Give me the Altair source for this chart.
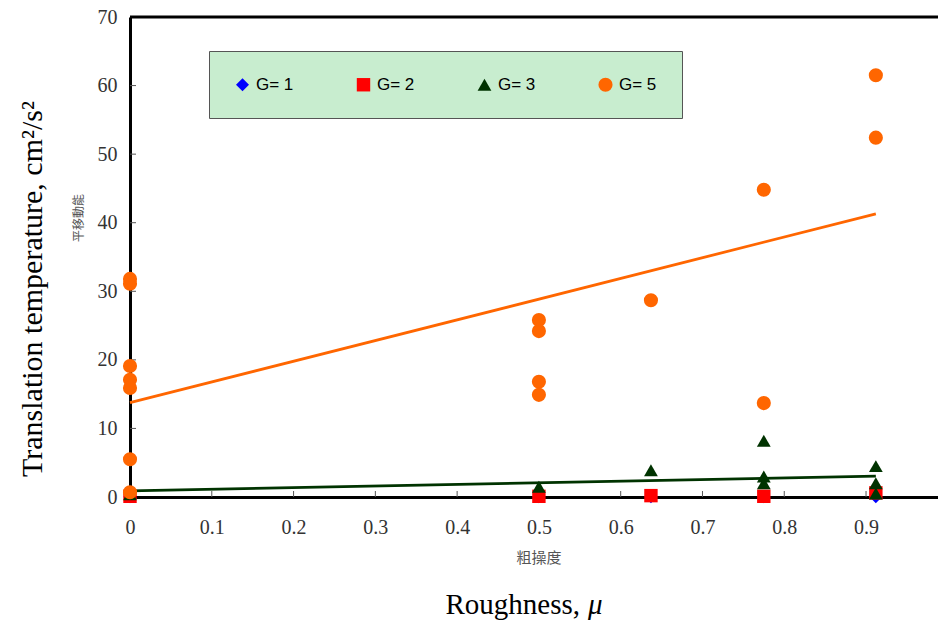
import altair as alt
import pandas as pd

# ---- data ----
series = ["G= 1", "G= 2", "G= 3", "G= 5"]
colors = ["#0000FF", "#FF0000", "#003300", "#FF6600"]
shapes = ["diamond", "square", "triangle-up", "circle"]
sizes = [170, 200, 290, 175]

g1_x = [0, 0.5, 0.637, 0.775, 0.912]
g1_y = [0.05, 0.05, 0.05, 0.05, 0.05]

g2_x = [0, 0.5, 0.637, 0.775, 0.912]
g2_y = [0.1, 0.1, 0.2, 0.1, 0.6]

g3_x = [0, 0.5, 0.637, 0.775, 0.775, 0.775, 0.912, 0.912, 0.912]
g3_y = [0.4, 1.5, 3.9, 8.2, 3.0, 2.0, 4.5, 2.0, 0.5]

g5_x = [0, 0, 0, 0, 0, 0, 0, 0.5, 0.5, 0.5, 0.5, 0.637, 0.775, 0.775, 0.912, 0.912]
g5_y = [31.8, 31.1, 19.1, 17.1, 15.9, 5.5, 0.7, 25.8, 24.2, 16.8, 14.9, 28.7, 44.8, 13.7, 61.5, 52.4]

fit_x = [0, 0.912]
fit_g5 = [13.75, 41.3]
fit_g3 = [0.9, 3.05]

x_tick_vals = [0.1, 0.2, 0.3, 0.4, 0.5, 0.6, 0.7, 0.8, 0.9]
y_tick_vals = [10, 20, 30, 40, 50, 60, 70]

# ---- tables ----
rows = []
for name, xs, ys in zip(series, [g1_x, g2_x, g3_x, g5_x], [g1_y, g2_y, g3_y, g5_y]):
    for a, b in zip(xs, ys):
        rows.append({"mu": a, "T": b, "G": name})
pts = pd.DataFrame(rows)

fit5 = pd.DataFrame({"mu": fit_x, "T": fit_g5})
fit3 = pd.DataFrame({"mu": fit_x, "T": fit_g3})

W, H = 808, 480
xscale = alt.Scale(domain=[0, 0.988], nice=False, zero=False)
yscale = alt.Scale(domain=[0, 70], nice=False)

serif = "Liberation Serif"

x_enc = alt.X(
    "mu:Q", scale=xscale,
    axis=alt.Axis(values=[0] + x_tick_vals, format=".1~f", title=None, ticks=False,
                  grid=False, labelFont=serif, labelFontSize=20, labelColor="#333333",
                  labelPadding=20, labelFlush=False, domainColor="black", domainWidth=3),
)
y_enc = alt.Y(
    "T:Q", scale=yscale,
    axis=alt.Axis(values=[0] + y_tick_vals, title=None, ticks=False, grid=False,
                  labelFont=serif, labelFontSize=20, labelColor="#333333",
                  labelPadding=13, labelFlush=False, domainColor="black", domainWidth=3),
)

legend = alt.Legend(
    title=None, orient="none", legendX=79, legendY=34, direction="horizontal",
    fillColor="#C8EDCF", strokeColor="#555555", padding=25, columnPadding=61,
    labelFont="Liberation Sans", labelFontSize=17, labelColor="black",
    labelOffset=5, symbolStrokeWidth=0,
)
color_enc = alt.Color("G:N", scale=alt.Scale(domain=series, range=colors), legend=legend)
shape_enc = alt.Shape("G:N", scale=alt.Scale(domain=series, range=shapes), legend=legend)
size_enc = alt.Size("G:N", scale=alt.Scale(domain=series, range=sizes), legend=legend)

line5 = alt.Chart(fit5).mark_line(strokeWidth=2.8, color="#FF6600").encode(x=x_enc, y=y_enc)
line3 = alt.Chart(fit3).mark_line(strokeWidth=2.8, color="#003300").encode(x=x_enc, y=y_enc)

points = alt.Chart(pts).mark_point(filled=True, opacity=1).encode(
    x=x_enc, y=y_enc, color=color_enc, shape=shape_enc, size=size_enc,
    order=alt.Order("G:N"),
)

xt = alt.Chart(pd.DataFrame({"mu": x_tick_vals})).mark_rule(color="#555555", strokeWidth=1).encode(
    x=alt.X("mu:Q", scale=xscale), y=alt.value(H), y2=alt.value(H - 6)
)
yt = alt.Chart(pd.DataFrame({"T": y_tick_vals})).mark_rule(color="#555555", strokeWidth=1).encode(
    y=alt.Y("T:Q", scale=yscale), x=alt.value(0), x2=alt.value(6)
)

one = alt.Data(values=[{}])
top_border = alt.Chart(one).mark_rule(color="black", strokeWidth=3).encode(
    x=alt.value(0), x2=alt.value(W), y=alt.value(0)
)

ytitle = alt.Chart(one).mark_text(
    text="Translation temperature, cm²/s²", font=serif, fontSize=30, angle=270,
    align="center", baseline="alphabetic", color="black"
).encode(x=alt.value(-88), y=alt.value(272))

ycn = alt.Chart(one).mark_text(
    text="平移動能", font="Noto Sans CJK TC", fontSize=12, angle=270,
    align="center", baseline="middle", color="#555555"
).encode(x=alt.value(-51), y=alt.value(201))

xcn = alt.Chart(one).mark_text(
    text="粗操度", font="Noto Sans CJK TC", fontSize=15,
    align="center", baseline="middle", color="#555555"
).encode(x=alt.value(409), y=alt.value(541))

xtitle1 = alt.Chart(one).mark_text(
    text="Roughness,", font=serif, fontSize=29, align="right",
    baseline="alphabetic", color="black"
).encode(x=alt.value(450), y=alt.value(597))
xtitle2 = alt.Chart(one).mark_text(
    text="μ", font=serif, fontSize=29, fontStyle="italic", align="left",
    baseline="alphabetic", color="black"
).encode(x=alt.value(458), y=alt.value(597))

chart = alt.layer(
    xt, yt, line5, line3, points, top_border, ytitle, ycn, xcn, xtitle1, xtitle2
).properties(
    width=W, height=H,
    autosize=alt.AutoSizeParams(type="none"),
    padding={"left": 130, "top": 17, "right": 0, "bottom": 124},
    background="white",
).configure_view(stroke=None)

chart.save("out.html", embed_options={"renderer": "svg", "actions": False})
